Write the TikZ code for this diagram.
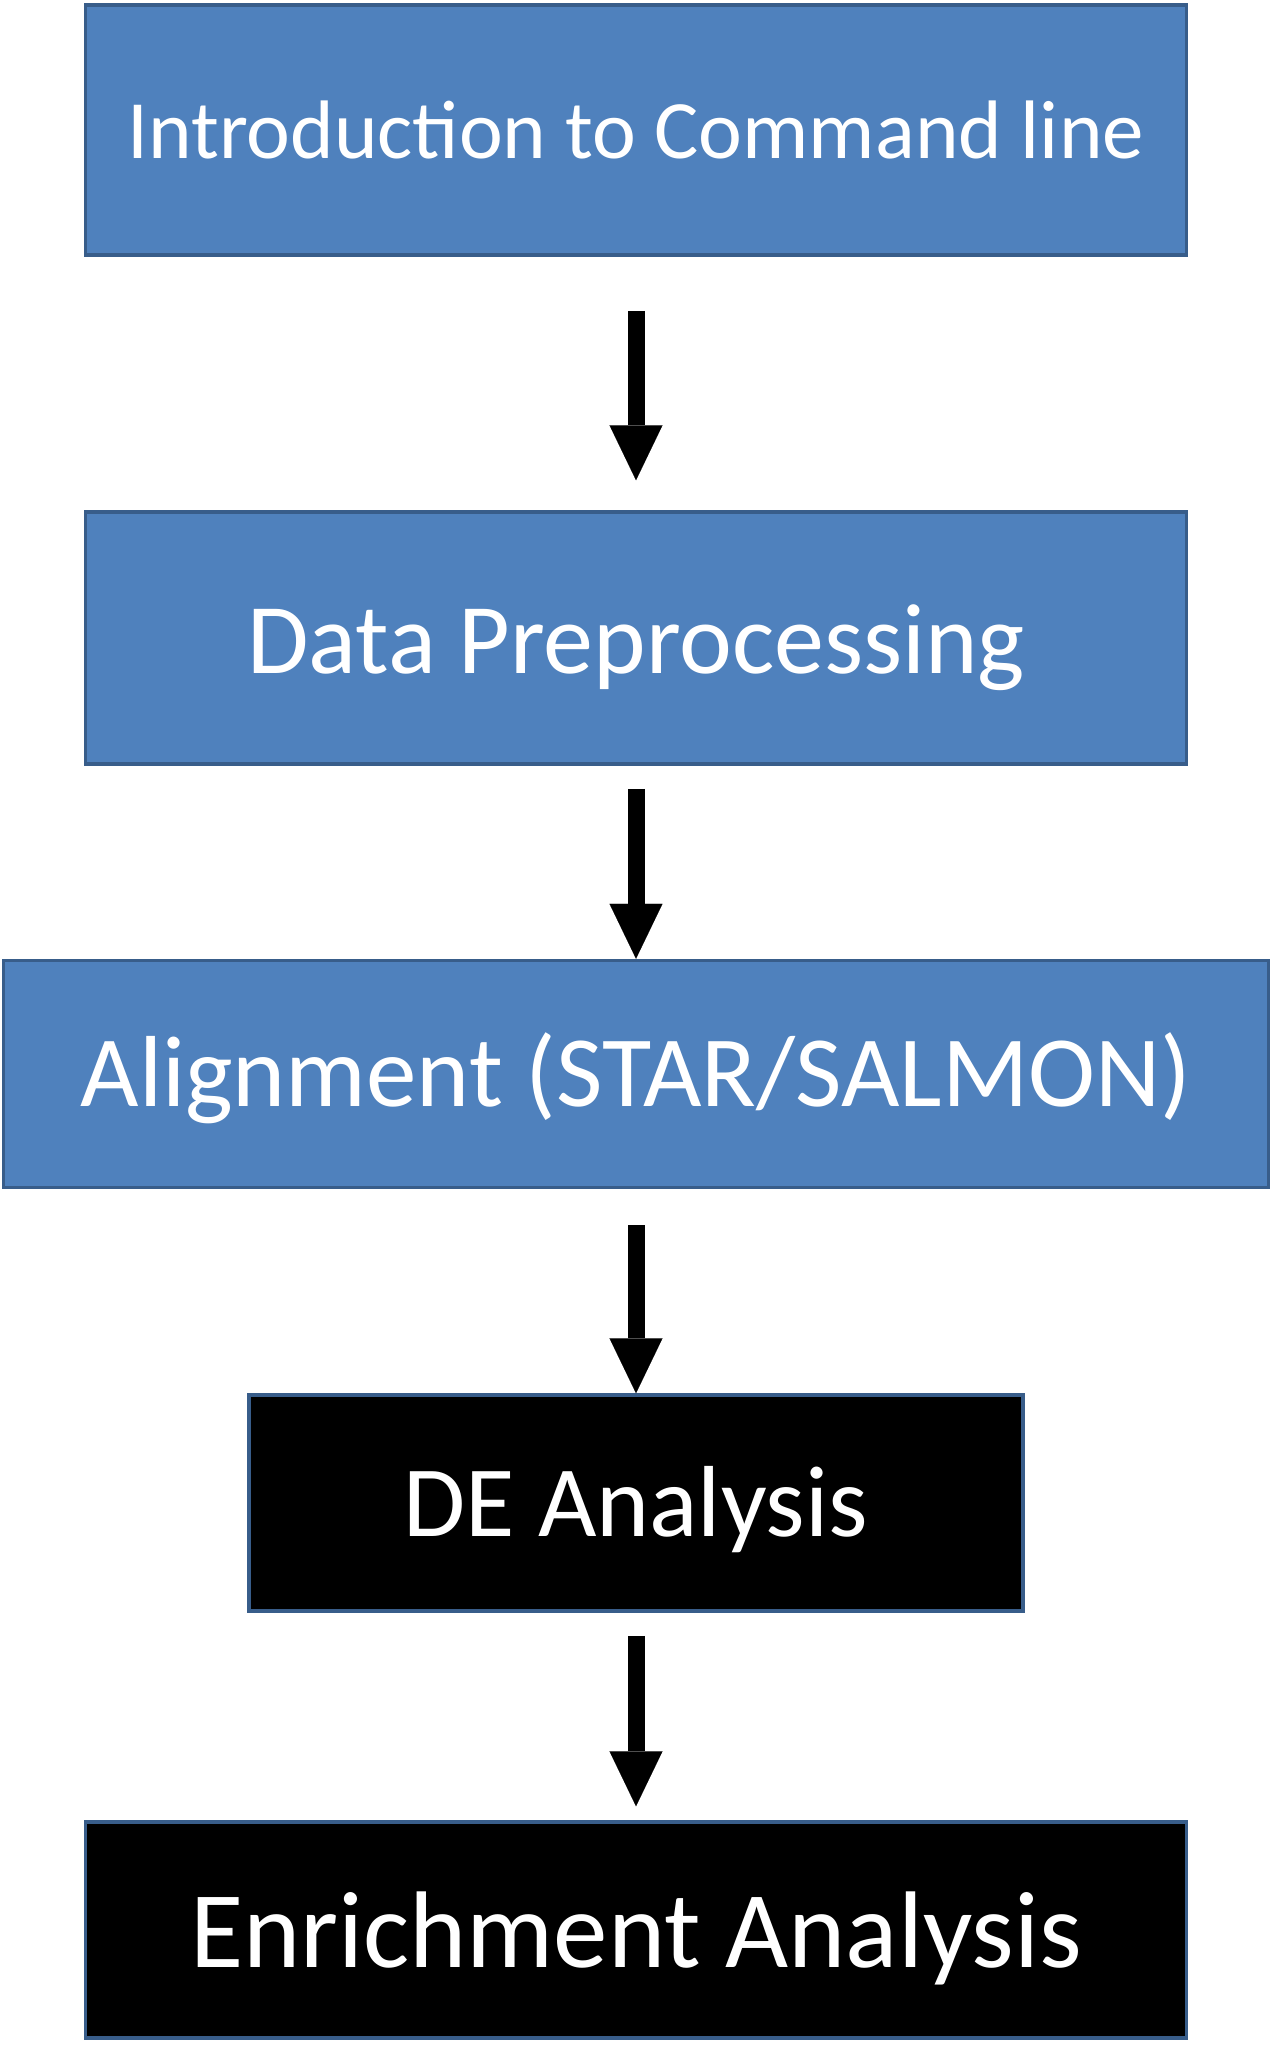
\documentclass[tikz,border=0pt]{standalone}
\usepackage{fontspec}
\usepackage{xcolor}
\usetikzlibrary{arrows.meta}
\setmainfont{Carlito}
\definecolor{stepblue}{HTML}{4F81BD}
\definecolor{stepline}{HTML}{385D8A}
\newcommand{\lowered}[2]{\raisebox{-#1}[\height][\depth]{#2}}

\begin{document}
\begin{tikzpicture}[x=1pt,y=-1pt,
    box/.style={draw=stepline,line width=3.5pt,text=white,inner sep=0pt},
    bluebox/.style={box,fill=stepblue},
    blackbox/.style={box,fill=black},
    flow/.style={line width=17pt,-{Triangle[length=55pt,width=53pt,line width=0.1pt]}}]
    \useasboundingbox (0,0) rectangle (1274,2067);

    \node[bluebox,minimum width=1101pt,minimum height=250pt,font=\fontsize{83}{100}\selectfont] (intro) at (636,130) {Introduction to Command line};
    \node[bluebox,minimum width=1101pt,minimum height=252pt,font=\fontsize{100}{120}\selectfont] (prep) at (636,638) {\lowered{10pt}{Data Preprocessing}};
    \node[bluebox,minimum width=1265pt,minimum height=227pt,font=\fontsize{101}{121}\selectfont] (align) at (636,1074) {\lowered{4pt}{Alignment (STAR/SALMON)}};
    \node[blackbox,minimum width=774pt,minimum height=216pt,font=\fontsize{101}{121}\selectfont] (de) at (636,1503) {\lowered{7pt}{DE Analysis}};
    \node[blackbox,minimum width=1101pt,minimum height=216pt,font=\fontsize{109}{131}\selectfont] (enrich) at (636,1930) {\lowered{8pt}{Enrichment Analysis}};

    \foreach \a/\b/\s/\e in {intro/prep/54/30, prep/align/23/0, align/de/36/0, de/enrich/23/14}
        \draw[flow,shorten <=\s pt,shorten >=\e pt] (\a) -- (\a |- \b.north);
\end{tikzpicture}
\end{document}
